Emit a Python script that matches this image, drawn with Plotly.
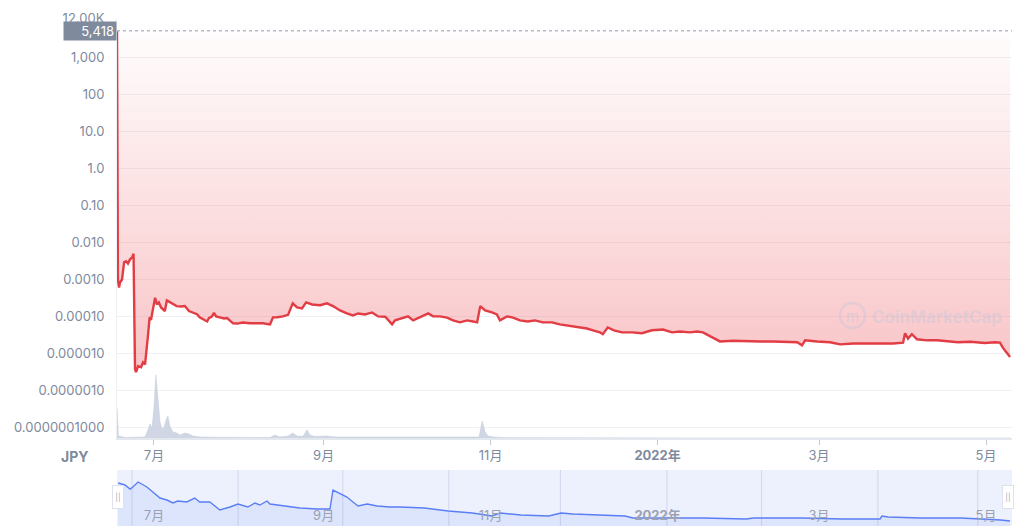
import math
import plotly.graph_objects as go

# ---------------- data ----------------
price_dates = [
    "2021-06-17 12:00", "2021-06-17 20:00", "2021-06-18 06:00", "2021-06-18 14:00", "2021-06-19 08:00",
    "2021-06-20 02:00", "2021-06-20 20:00", "2021-06-21 12:00", "2021-06-22 06:00", "2021-06-23 00:00",
    "2021-06-23 13:00", "2021-06-24 02:00", "2021-06-24 11:00", "2021-06-25 05:00", "2021-06-26 07:00",
    "2021-06-27 00:00", "2021-06-27 18:00", "2021-06-28 03:00", "2021-06-28 19:00", "2021-06-29 10:00",
    "2021-06-29 22:00", "2021-06-30 14:00", "2021-07-01 10:00", "2021-07-02 02:00", "2021-07-02 19:00",
    "2021-07-03 14:00", "2021-07-04 07:00", "2021-07-05 00:00", "2021-07-05 17:00", "2021-07-06 19:00",
    "2021-07-07 22:00", "2021-07-09 07:00", "2021-07-10 22:00", "2021-07-12 07:00", "2021-07-13 19:00",
    "2021-07-15 05:00", "2021-07-16 17:00", "2021-07-17 17:00", "2021-07-19 05:00", "2021-07-20 10:00",
    "2021-07-21 02:00", "2021-07-22 05:00", "2021-07-22 22:00", "2021-07-23 17:00", "2021-07-25 02:00",
    "2021-07-26 14:00", "2021-07-27 17:00", "2021-07-28 19:00", "2021-07-29 22:00", "2021-07-31 10:00",
    "2021-08-02 12:00", "2021-08-05 02:00", "2021-08-07 14:00", "2021-08-09 19:00", "2021-08-12 10:00",
    "2021-08-13 12:00", "2021-08-15 00:00", "2021-08-17 02:00", "2021-08-19 00:00", "2021-08-20 17:00",
    "2021-08-22 07:00", "2021-08-24 02:00", "2021-08-25 14:00", "2021-08-27 19:00", "2021-08-30 17:00",
    "2021-09-02 05:00", "2021-09-04 10:00", "2021-09-07 00:00", "2021-09-09 12:00", "2021-09-11 17:00",
    "2021-09-13 14:00", "2021-09-16 02:00", "2021-09-18 17:00", "2021-09-20 22:00", "2021-09-23 12:00",
    "2021-09-26 00:00", "2021-09-27 02:00", "2021-09-29 17:00", "2021-10-01 20:00", "2021-10-03 17:00",
    "2021-10-06 05:00", "2021-10-09 05:00", "2021-10-11 00:00", "2021-10-13 12:00", "2021-10-16 02:00",
    "2021-10-18 07:00", "2021-10-20 19:00", "2021-10-23 10:00", "2021-10-25 14:00", "2021-10-27 02:00",
    "2021-10-28 05:00", "2021-10-30 00:00", "2021-11-01 12:00", "2021-11-03 07:00", "2021-11-04 10:00",
    "2021-11-07 00:00", "2021-11-09 05:00", "2021-11-11 17:00", "2021-11-14 14:00", "2021-11-17 05:00",
    "2021-11-20 02:00", "2021-11-23 10:00", "2021-11-26 07:00", "2021-11-28 22:00", "2021-12-01 02:00",
    "2021-12-03 14:00", "2021-12-06 05:00", "2021-12-08 10:00", "2021-12-10 22:00", "2021-12-12 00:00",
    "2021-12-13 19:00", "2021-12-16 02:00", "2021-12-19 00:00", "2021-12-22 17:00", "2021-12-26 07:00",
    "2021-12-29 22:00", "2022-01-03 00:00", "2022-01-06 07:00", "2022-01-09 05:00", "2022-01-12 19:00",
    "2022-01-15 10:00", "2022-01-17 14:00", "2022-01-20 02:00", "2022-01-22 00:00", "2022-01-23 19:00",
    "2022-01-28 14:00", "2022-02-02 17:00", "2022-02-07 10:00", "2022-02-12 05:00", "2022-02-17 07:00",
    "2022-02-21 00:00", "2022-02-22 19:00", "2022-02-23 22:00", "2022-02-28 07:00", "2022-03-05 00:00",
    "2022-03-08 17:00", "2022-03-13 12:00", "2022-03-18 14:00", "2022-03-23 07:00", "2022-03-28 02:00",
    "2022-03-31 17:00", "2022-04-01 10:00", "2022-04-02 12:00", "2022-04-03 22:00", "2022-04-05 19:00",
    "2022-04-09 10:00", "2022-04-13 02:00", "2022-04-16 17:00", "2022-04-20 19:00", "2022-04-25 05:00",
    "2022-04-30 14:00", "2022-05-04 07:00", "2022-05-06 02:00", "2022-05-07 05:00", "2022-05-07 22:00",
    "2022-05-09 00:00", "2022-05-09 19:00",
]
price_jpy = [
    5418, 0.0010, 0.0006, 0.00083, 0.0010,
    0.0029, 0.0031, 0.0027, 0.0035, 0.0039,
    0.0050, 0.0000037, 0.0000031, 0.0000045, 0.0000042,
    0.0000057, 0.0000050, 0.0000083, 0.000029, 0.000094,
    0.000080, 0.00015, 0.00032, 0.00021, 0.00024,
    0.000175, 0.000155, 0.00014, 0.00027, 0.00024,
    0.00021, 0.00019, 0.000185, 0.00019, 0.00014,
    0.00013, 0.000115, 0.000094, 0.000083, 0.000073,
    0.000090, 0.00010, 0.000125, 0.00010, 0.000094,
    0.000088, 0.000090, 0.000078, 0.000065, 0.000064,
    0.000068, 0.000065, 0.000064, 0.000065, 0.000061,
    0.000094, 0.000095, 0.00010, 0.00011, 0.000225,
    0.000175, 0.000165, 0.00024, 0.00021, 0.00020,
    0.000225, 0.00019, 0.000145, 0.00012, 0.000106,
    0.00012, 0.000113, 0.000128, 0.00010, 0.000098,
    0.000061, 0.000078, 0.000088, 0.00010, 0.000078,
    0.000093, 0.00012, 0.00010, 0.00010, 0.000093,
    0.000078, 0.000069, 0.000078, 0.000073, 0.000069,
    0.00019, 0.000145, 0.000128, 0.000113, 0.000078,
    0.00010, 0.000093, 0.000078, 0.000073, 0.000078,
    0.000069, 0.000069, 0.000061, 0.000057, 0.000054,
    0.000050, 0.000047, 0.000042, 0.000037, 0.000033,
    0.000050, 0.000042, 0.000037, 0.000037, 0.000035,
    0.000042, 0.000044, 0.000037, 0.000039, 0.000037,
    0.000039, 0.000037, 0.000029, 0.000024, 0.000021,
    0.000022, 0.000021, 0.000021, 0.000021, 0.000020,
    0.000020, 0.0000165, 0.0000225, 0.000021, 0.000020,
    0.0000175, 0.0000185, 0.0000185, 0.0000185, 0.0000185,
    0.0000195, 0.000035, 0.000025, 0.000033, 0.000024,
    0.0000225, 0.0000225, 0.000021, 0.000020, 0.0000205,
    0.000019, 0.000020, 0.0000195, 0.000014, 0.000012,
    0.000010, 0.000008,
]

volume_dates = [
    "2021-06-17 12:00", "2021-06-18 00:00", "2021-06-20 12:00", "2021-06-26 00:00", "2021-06-27 18:00",
    "2021-06-28 19:00", "2021-06-29 14:00", "2021-06-30 07:00", "2021-07-01 00:00", "2021-07-01 17:00",
    "2021-07-02 12:00", "2021-07-03 05:00", "2021-07-03 22:00", "2021-07-04 17:00", "2021-07-05 10:00",
    "2021-07-06 02:00", "2021-07-06 19:00", "2021-07-07 22:00", "2021-07-09 07:00", "2021-07-10 12:00",
    "2021-07-12 07:00", "2021-07-13 19:00", "2021-07-15 05:00", "2021-07-17 17:00", "2021-07-23 07:00",
    "2021-08-01 12:00", "2021-08-12 10:00", "2021-08-14 05:00", "2021-08-16 00:00", "2021-08-19 00:00",
    "2021-08-20 17:00", "2021-08-22 07:00", "2021-08-24 10:00", "2021-08-25 22:00", "2021-08-27 00:00",
    "2021-08-28 19:00", "2021-09-02 05:00", "2021-09-05 05:00", "2021-09-14 07:00", "2021-09-25 05:00",
    "2021-10-06 05:00", "2021-10-13 12:00", "2021-10-24 12:00", "2021-10-27 19:00", "2021-10-28 22:00",
    "2021-10-30 00:00", "2021-10-31 00:00", "2021-11-02 14:00", "2021-11-08 00:00", "2021-11-22 17:00",
    "2022-01-16 12:00", "2022-05-09 19:00",
]
volume_jpy_mn = [
    31, 2, 0.5, 0.5, 1,
    8, 14, 10, 30, 63,
    40, 16, 9, 11, 18,
    22, 12, 6, 5, 3,
    5, 4, 2, 1, 0.7,
    0.5, 0.5, 3, 1, 2,
    5, 2, 1.5, 8, 3,
    1.5, 2, 1, 1, 0.6,
    0.7, 0.5, 0.5, 1, 17,
    6, 2, 0.8, 0.3, 0.2,
    0.1, 0.1,
]

nav_dates = [
    "2021-06-17 22:00", "2021-06-20 10:00", "2021-06-22 07:00", "2021-06-23 07:00", "2021-06-25 05:00",
    "2021-06-28 10:00", "2021-06-30 14:00", "2021-07-03 05:00", "2021-07-05 17:00", "2021-07-07 22:00",
    "2021-07-09 17:00", "2021-07-13 00:00", "2021-07-15 22:00", "2021-07-17 17:00", "2021-07-21 10:00",
    "2021-07-25 02:00", "2021-07-28 19:00", "2021-07-31 17:00", "2021-08-04 07:00", "2021-08-06 22:00",
    "2021-08-08 17:00", "2021-08-11 07:00", "2021-08-12 10:00", "2021-08-17 02:00", "2021-08-23 07:00",
    "2021-08-29 14:00", "2021-09-03 07:00", "2021-09-04 10:00", "2021-09-05 22:00", "2021-09-07 17:00",
    "2021-09-09 12:00", "2021-09-11 17:00", "2021-09-13 14:00", "2021-09-16 22:00", "2021-09-20 12:00",
    "2021-09-25 07:00", "2021-09-28 22:00", "2021-10-07 19:00", "2021-10-16 12:00", "2021-10-25 07:00",
    "2021-11-01 12:00", "2021-11-04 10:00", "2021-11-12 02:00", "2021-11-22 07:00", "2021-11-26 17:00",
    "2021-12-01 02:00", "2021-12-08 10:00", "2021-12-20 02:00", "2021-12-23 00:00", "2022-01-01 00:00",
    "2022-01-17 10:00", "2022-02-02 07:00", "2022-02-05 05:00", "2022-02-22 19:00", "2022-03-09 10:00",
    "2022-03-23 07:00", "2022-03-24 00:00", "2022-03-26 05:00", "2022-04-07 02:00", "2022-04-21 17:00",
    "2022-05-03 07:00", "2022-05-06 07:00", "2022-05-09 19:00",
]
nav_values = [
    57, 55, 51, 53, 58,
    53, 48, 42, 40, 37,
    39, 38, 42, 38, 38,
    30, 33, 36, 33, 37,
    35, 39, 36, 34, 32,
    31, 31, 50, 48, 45,
    43, 38, 34, 36, 34,
    33, 33, 32, 29, 27,
    24, 27, 25, 24, 27,
    26, 25, 24, 22, 22,
    22, 21, 22, 22, 21,
    21, 24, 23, 22, 22,
    21, 20, 19,
]
nav_grid_dates = ["2021-06-23", "2021-07-31 18:00", "2021-09-08", "2021-10-16 18:00", "2021-11-26 12:00",
                  "2022-01-04 10:00", "2022-02-08", "2022-03-22 12:00", "2022-04-28"]

x_range = ["2021-06-17 12:00", "2022-05-10 12:00"]
month_ticks = ["2021-07-01", "2021-09-01", "2021-11-01", "2022-01-01", "2022-03-01", "2022-05-01"]
month_labels = ["7月", "9月", "11月", "<b>2022年</b>", "3月", "5月"]
y_tick_vals = [12000, 1000, 100, 10, 1, 0.1, 0.01, 0.001, 0.0001, 0.00001, 0.000001, 0.0000001]
y_tick_text = ["12.00K", "1,000", "100", "10.0", "1.0", "0.10", "0.010", "0.0010", "0.00010",
               "0.000010", "0.0000010", "0.0000001000"]
y_bottom = 5.1e-8

# ---------------- figure ----------------
W, H = 1024, 526
ML, MR, MT, MB = 117, 12, 18, 0
ph = H - MT - MB
main_bottom_px = 438
nav_top_px = 470
main_dom = [(H - MB - main_bottom_px) / ph, 1]
nav_dom = [0, (H - MB - nav_top_px) / ph]

def px_x(px):
    return (px - ML) / (W - ML - MR)

def px_y(py):
    return (H - MB - py) / ph

GRAY = "#808a9d"
FONT = "Inter, 'Noto Sans CJK JP', sans-serif"

fig = go.Figure()

# volume (secondary axis, bottom of main plot)
fig.add_trace(go.Scatter(
    x=volume_dates, y=volume_jpy_mn, xaxis="x", yaxis="y2", mode="lines",
    line=dict(color="rgba(196,204,220,0.9)", width=0.6), fill="tozeroy",
    fillcolor="rgba(200,207,222,0.85)", hoverinfo="skip", showlegend=False))

# top boundary for the fill (top of value axis)
top_val = max(y_tick_vals)
fig.add_trace(go.Scatter(
    x=[price_dates[0], price_dates[-1]], y=[top_val, top_val], mode="lines",
    line=dict(width=0, color="rgba(0,0,0,0)"), hoverinfo="skip", showlegend=False))

# price line with gradient fill up to the top
fig.add_trace(go.Scatter(
    x=price_dates, y=price_jpy, mode="lines", fill="tonexty",
    fillgradient=dict(type="vertical",
                      colorscale=[[0, "rgba(234,57,67,0.30)"], [1, "rgba(234,57,67,0.0)"]]),
    line=dict(color="#e23c44", width=2.4), showlegend=False))

# dotted reference line at the first price
fig.add_trace(go.Scatter(
    x=[price_dates[0], x_range[1]], y=[price_jpy[0], price_jpy[0]], mode="lines",
    line=dict(color="#b3bac8", width=1.5, dash="dot"), hoverinfo="skip", showlegend=False))

# navigator
fig.add_trace(go.Scatter(
    x=nav_dates, y=nav_values, xaxis="x3", yaxis="y3", mode="lines",
    line=dict(color="#5a7ef5", width=1.4), fill="tozeroy",
    fillcolor="rgba(90,126,245,0.10)", hoverinfo="skip", showlegend=False))

shapes = [
    dict(type="rect", xref="x3 domain", yref="y3 domain", x0=0, x1=1, y0=0, y1=1,
         fillcolor="rgb(237,241,253)", line=dict(width=0), layer="below"),
]
for d in nav_grid_dates:
    shapes.append(dict(type="line", xref="x3", yref="y3 domain", x0=d, x1=d, y0=0, y1=1,
                       line=dict(color="rgba(205,212,235,0.9)", width=1), layer="below"))
# watermark logo ring
shapes.append(dict(type="circle", xref="paper", yref="paper",
                   x0=px_x(840), x1=px_x(865), y0=px_y(328), y1=px_y(303),
                   line=dict(color="rgba(185,196,218,0.35)", width=2.5)))

annotations = [
    dict(text=f"{price_jpy[0]:,.0f}", xref="paper", yref="y", x=0, xanchor="right",
         y=math.log10(price_jpy[0]), yanchor="middle", showarrow=False,
         bgcolor=GRAY, font=dict(color="white", size=13, family=FONT),
         width=48, height=14, borderpad=2, align="right"),
    dict(text="<b>JPY</b>", xref="paper", yref="paper", x=px_x(75), y=px_y(456),
         xanchor="center", yanchor="middle", showarrow=False,
         font=dict(color=GRAY, size=14, family=FONT)),
    dict(text="<b>CoinMarketCap</b>", xref="paper", yref="paper", x=px_x(937), y=px_y(317),
         xanchor="center", yanchor="middle", showarrow=False,
         font=dict(color="rgba(185,196,218,0.35)", size=17, family=FONT)),
    dict(text="m", xref="paper", yref="paper", x=px_x(852.5), y=px_y(316),
         xanchor="center", yanchor="middle", showarrow=False,
         font=dict(color="rgba(185,196,218,0.4)", size=15, family=FONT)),
]
for hx in (118, 1008):
    annotations.append(dict(text="||", xref="paper", yref="paper", x=px_x(hx), y=px_y(497),
                            xanchor="center", yanchor="middle", showarrow=False,
                            font=dict(color="#a3abbd", size=8, family=FONT),
                            bgcolor="white", bordercolor="#dde2ec", borderwidth=1,
                            width=8, height=20, borderpad=1))

fig.update_layout(
    width=W, height=H,
    margin=dict(l=ML, r=MR, t=MT, b=MB, pad=0),
    paper_bgcolor="white", plot_bgcolor="white",
    font=dict(family=FONT, color=GRAY, size=13),
    showlegend=False,
    xaxis=dict(type="date", range=x_range, domain=[0, 1], anchor="y",
               tickvals=month_ticks, ticktext=month_labels, showgrid=False,
               showline=True, linecolor="#e3e7ee", linewidth=1.5,
               ticks="outside", ticklen=5, tickcolor="#c3c9d5", tickwidth=1,
               tickfont=dict(size=13, color=GRAY, family=FONT), zeroline=False),
    yaxis=dict(type="log", range=[math.log10(y_bottom), math.log10(top_val)], domain=main_dom,
               anchor="x", tickvals=y_tick_vals, ticktext=y_tick_text,
               showgrid=True, gridcolor="#eff1f5", gridwidth=1,
               showline=True, linecolor="#eff1f5", linewidth=1,
               ticks="", ticklabelstandoff=9,
               tickfont=dict(size=13, color=GRAY, family=FONT), zeroline=False),
    yaxis2=dict(overlaying="y", range=[0, 420], visible=False, showgrid=False),
    xaxis3=dict(type="date", range=x_range, domain=[0, 1], anchor="y3",
                tickvals=month_ticks, ticktext=month_labels, showgrid=False,
                showline=False, ticks="", ticklabelposition="inside",
                tickfont=dict(size=13, color="#9aa2b4", family=FONT), zeroline=False),
    yaxis3=dict(domain=nav_dom, range=[14, 70], anchor="x3", visible=False, showgrid=False),
    shapes=shapes,
    annotations=annotations,
)

fig.write_html("out.html", config={"displayModeBar": False},
               post_script="document.body.style.margin='0';document.body.style.overflow='hidden';")
